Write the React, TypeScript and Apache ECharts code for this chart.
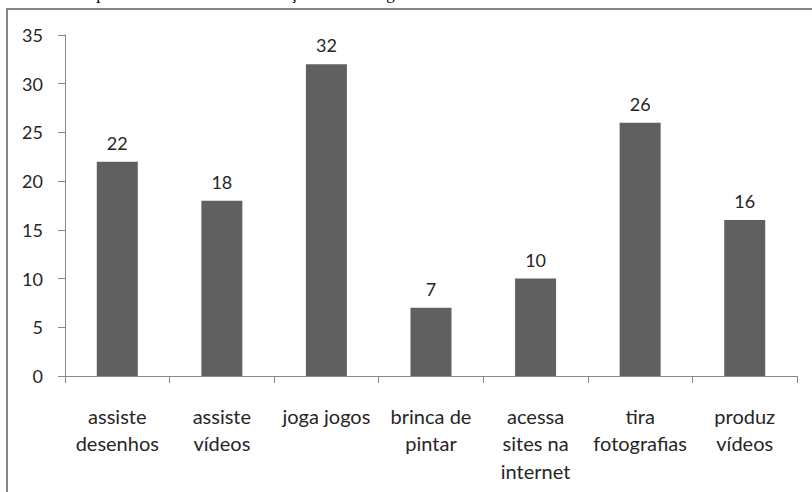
import React, { useEffect, useRef } from "react";
import * as echarts from "echarts";

const categories = [
  "assiste\ndesenhos",
  "assiste\nvídeos",
  "joga jogos",
  "brinca de\npintar",
  "acessa\nsites na\ninternet",
  "tira\nfotografias",
  "produz\nvídeos",
];
const values = [22, 18, 32, 7, 10, 26, 16];
const yTicks = { min: 0, max: 35, interval: 5 };
const title = "Gráfico 7: Mapeamento dos usos das crianças na tecnologia móvel.";

const FONT = "Lato";
const TEXT = "#262626";

export default function App() {
  const ref = useRef<HTMLDivElement>(null);
  useEffect(() => {
    if (!ref.current) return;
    const chart = echarts.init(ref.current, null, { renderer: "svg" });
    chart.setOption({
      animation: false,
      backgroundColor: "#ffffff",
      graphic: [
        {
          type: "text",
          left: 0,
          top: -15,
          style: {
            text: title,
            font: "17px 'Liberation Serif', serif",
            fill: "#000",
          },
        },
        {
          type: "polyline",
          shape: { points: [[7, 492], [7, 9], [812, 9]] },
          style: { stroke: "#858585", lineWidth: 2, fill: "none" },
        },
      ],
      grid: { left: 65, right: 15, top: 35, bottom: 116, containLabel: false },
      xAxis: {
        type: "category",
        data: categories,
        boundaryGap: true,
        axisLine: { lineStyle: { color: "#868686", width: 1 } },
        axisTick: { show: true, alignWithLabel: false, length: 7, lineStyle: { color: "#868686" } },
        axisLabel: {
          interval: 0,
          margin: 26,
          color: TEXT,
          fontFamily: FONT,
          fontSize: 20,
          lineHeight: 27.5,
        },
      },
      yAxis: {
        type: "value",
        min: yTicks.min,
        max: yTicks.max,
        interval: yTicks.interval,
        splitLine: { show: false },
        axisLine: { show: true, lineStyle: { color: "#868686", width: 1 } },
        axisTick: { show: true, length: 7, lineStyle: { color: "#868686" } },
        axisLabel: {
          margin: 22,
          color: TEXT,
          fontFamily: FONT,
          fontSize: 18,
        },
      },
      series: [
        {
          type: "bar",
          data: values,
          barWidth: 41,
          itemStyle: { color: "#606060" },
          label: {
            show: true,
            position: "top",
            distance: 10,
            color: TEXT,
            fontFamily: FONT,
            fontSize: 18,
          },
        },
      ],
    });
    return () => chart.dispose();
  }, []);
  return (
    <div
      ref={ref}
      style={{ position: "fixed", left: 0, top: 0, width: 812, height: 492 }}
    />
  );
}
